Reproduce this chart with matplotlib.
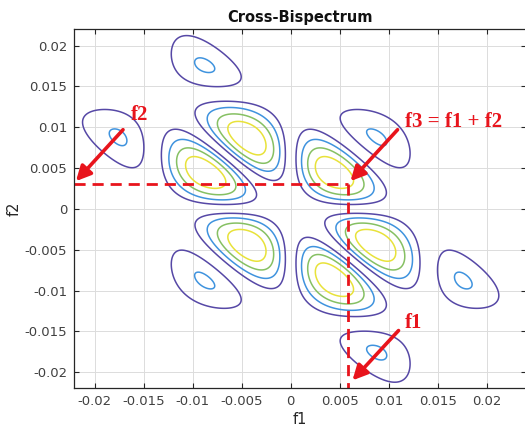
import numpy as np
import matplotlib
matplotlib.use("Agg")
import matplotlib.pyplot as plt

# Spectrum model: bandpass with nulls at 0 and +-null_freq, gaussian taper
null_freq = 0.014
env_width = 0.01463
levels = [0.2, 0.4, 0.6, 0.8]
line_colors = ['#5648a6', '#3f93de', '#86c063', '#e8e23a']

f1_ticks = [-0.02, -0.015, -0.01, -0.005, 0, 0.005, 0.01, 0.015, 0.02]
f2_ticks = [-0.02, -0.015, -0.01, -0.005, 0, 0.005, 0.01, 0.015, 0.02]
tick_labels = ['-0.02', '-0.015', '-0.01', '-0.005', '0', '0.005', '0.01', '0.015', '0.02']

# marked frequencies
f1_mark = 0.0058
f2_mark = 0.0031

xlim = (-0.0221, 0.0240)
ylim = (-0.0219, 0.0220)


def spectrum(f):
    return np.sin(np.pi * f / null_freq) * np.exp(-f ** 2 / (2 * env_width ** 2))


fx = np.linspace(xlim[0], xlim[1], 600)
fy = np.linspace(ylim[0], ylim[1], 600)
F1, F2 = np.meshgrid(fx, fy)
B = np.abs(spectrum(F1) * spectrum(F2) * spectrum(F1 + F2))
B = B / B.max()

fig = plt.figure(figsize=(5.25, 4.34), dpi=100)
ax = fig.add_axes([74 / 525, 1 - 387.7 / 434, (526 - 74) / 525, (387.7 - 29.3) / 434])

ax.contour(F1, F2, B, levels=levels, colors=line_colors, linewidths=1.1)

ax.set_xlim(xlim)
ax.set_ylim(ylim)
ax.set_xticks(f1_ticks)
ax.set_xticklabels(tick_labels)
ax.set_yticks(f2_ticks)
ax.set_yticklabels(tick_labels)
ax.grid(True, color='#dcdcdc', linewidth=0.7)
ax.set_axisbelow(True)
ax.tick_params(direction='in', top=True, right=True, length=3.5, width=0.8,
               colors='#262626', labelsize=9.5, labelcolor='#404040', pad=5)
for s in ax.spines.values():
    s.set_color('#262626')
    s.set_linewidth(0.9)

ax.set_xlabel('f1', fontsize=10.5, color='#262626', labelpad=3)
ax.set_ylabel('f2', fontsize=10.5, color='#262626', labelpad=2)
ax.set_title('Cross-Bispectrum', fontsize=10.5, fontweight='bold', color='#111111', pad=5)

red = '#e8141c'
# dashed guides to the marked frequencies
ax.plot([xlim[0], f1_mark], [f2_mark, f2_mark], '--', color=red, lw=2, dashes=(4, 2.5))
ax.plot([f1_mark, f1_mark], [f2_mark, ylim[0]], '--', color=red, lw=2, dashes=(4, 2.5))

arrow = dict(arrowstyle='-|>', color=red, lw=2.6, mutation_scale=22, shrinkA=0, shrinkB=0)
ax.annotate('', xy=(-0.0219, 0.0034), xytext=(-0.0171, 0.0097), arrowprops=arrow)
ax.annotate('', xy=(0.0061, 0.0034), xytext=(0.0109, 0.0097), arrowprops=arrow)
ax.annotate('', xy=(0.0063, -0.0210), xytext=(0.0110, -0.0149), arrowprops=arrow)

txt = dict(color=red, fontsize=15, fontweight='bold', family='Liberation Serif', va='center')
ax.text(-0.0163, 0.0115, 'f2', ha='left', **txt)
ax.text(0.0117, 0.0107, 'f3 = f1 + f2', ha='left', **txt)
ax.text(0.0116, -0.0140, 'f1', ha='left', **txt)

fig.savefig('out.png', dpi=100)
